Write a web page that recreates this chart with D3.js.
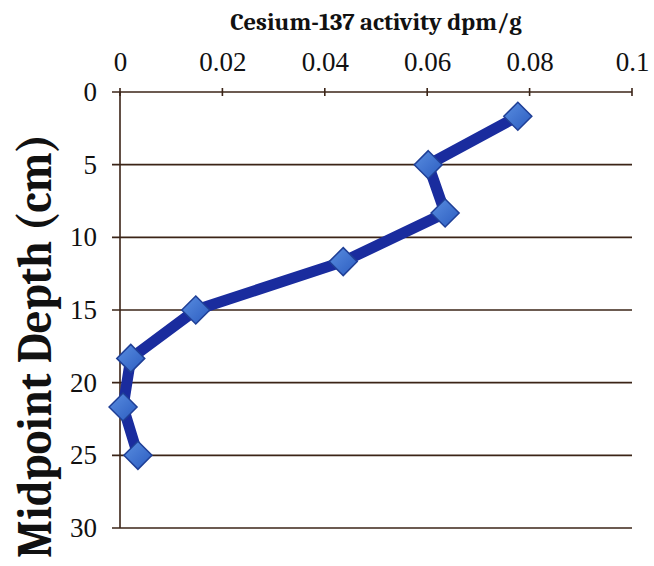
<!DOCTYPE html>
<html><head><meta charset="utf-8">
<script src="https://cdn.jsdelivr.net/npm/d3@7"></script>
<style>body{margin:0;background:#fff}svg{display:block}</style>
</head><body>
<svg id="c" width="654" height="566"></svg>
<script>
const activity = [0.0777, 0.0602, 0.0635, 0.0436, 0.0148, 0.0021, 0.0006, 0.0035];
const depth = [1.67, 5, 8.33, 11.67, 15, 18.33, 21.67, 25];
const xTicks = [0, 0.02, 0.04, 0.06, 0.08, 0.1];
const yTicks = [0, 5, 10, 15, 20, 25, 30];
const xTickLabels = ["0", "0.02", "0.04", "0.06", "0.08", "0.1"];

const svg = d3.select("#c");
const pLeft = 120, pRight = 632, pTop = 92, pBottom = 528;
const x = d3.scaleLinear().domain([0, 0.1]).range([pLeft, pRight]);
const y = d3.scaleLinear().domain([0, 30]).range([pTop, pBottom]);
const axisCol = "#3b2417";
const serif = "Cambria, 'DejaVu Serif', serif";
const tickFont = "'Liberation Serif', serif";

// gridlines
svg.append("g").selectAll("line").data(yTicks).join("line")
  .attr("x1", pLeft - 8).attr("x2", pRight)
  .attr("y1", d => y(d)).attr("y2", d => y(d))
  .attr("stroke", axisCol).attr("stroke-width", 1.6);

// left axis line
svg.append("line").attr("x1", pLeft).attr("x2", pLeft).attr("y1", pTop).attr("y2", pBottom)
  .attr("stroke", axisCol).attr("stroke-width", 1.6);

// top axis
const xAxis = d3.axisTop(x).tickValues(xTicks).tickSize(0).tickFormat((d, i) => xTickLabels[i]);
const gx = svg.append("g").attr("transform", `translate(0,${pTop})`).call(xAxis);
gx.select(".domain").remove();
gx.attr("font-family", tickFont).attr("font-size", 27);
gx.selectAll("text").attr("fill", "#111").attr("y", -21).attr("dy", 0);
svg.append("g").selectAll("line").data(xTicks).join("line")
  .attr("x1", d => x(d)).attr("x2", d => x(d))
  .attr("y1", pTop - 4).attr("y2", pTop + 4)
  .attr("stroke", axisCol).attr("stroke-width", 1.6);

// left axis labels
const yAxis = d3.axisLeft(y).tickValues(yTicks).tickSize(0).tickPadding(23);
const gy = svg.append("g").attr("transform", `translate(${pLeft},0)`).call(yAxis);
gy.select(".domain").remove();
gy.attr("font-family", tickFont).attr("font-size", 27);
gy.selectAll("text").attr("fill", "#111");

// titles
svg.append("text").attr("x", 376).attr("y", 30).attr("text-anchor", "middle")
  .attr("font-family", serif).attr("font-weight", "bold").attr("font-size", 24.5).attr("fill", "#111")
  .text("Cesium-137 activity dpm/g");
svg.append("text").attr("transform", "translate(51,346) rotate(-90)").attr("text-anchor", "middle")
  .attr("font-family", serif).attr("font-weight", "bold").attr("font-size", 48).attr("fill", "#111")
  .attr("textLength", 424).attr("lengthAdjust", "spacingAndGlyphs")
  .text("Midpoint Depth (cm)");

// data line
const pts = depth.map((d, i) => [activity[i], d]);
svg.append("path").datum(pts)
  .attr("d", d3.line().x(d => x(d[0])).y(d => y(d[1])))
  .attr("fill", "none").attr("stroke", "#1a2c9e").attr("stroke-width", 11)
  .attr("stroke-linejoin", "round").attr("stroke-linecap", "round");

// markers
const defs = svg.append("defs");
const grad = defs.append("linearGradient").attr("id", "mk").attr("x1", 0).attr("y1", 0).attr("x2", 1).attr("y2", 1);
grad.append("stop").attr("offset", "0").attr("stop-color", "#5a8ee0");
grad.append("stop").attr("offset", "1").attr("stop-color", "#2b5cc0");
svg.append("g").selectAll("path").data(pts).join("path")
  .attr("transform", d => `translate(${x(d[0])},${y(d[1])})`)
  .attr("d", "M0,-14L14,0L0,14L-14,0Z")
  .attr("fill", "url(#mk)").attr("stroke", "#1f3f96").attr("stroke-width", 1.5);
</script>
</body></html>
